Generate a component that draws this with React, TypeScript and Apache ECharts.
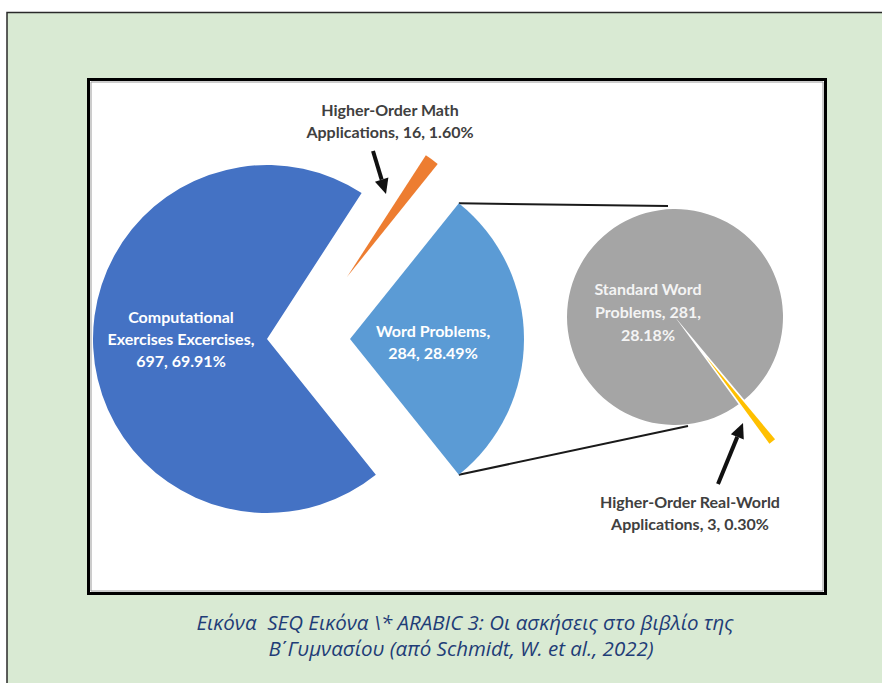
import React, { useEffect, useRef } from "react";
import * as echarts from "echarts";

// ---- data ----
const categories = ["Computational\nExercises Excercises", "Higher-Order Math\nApplications", "Word Problems"];
const values = [697, 16, 284];
const subCategories = ["Standard Word\nProblems", "Higher-Order Real-World\nApplications"];
const subValues = [281, 3];
const captionLines = [
  "Εικόνα  SEQ Εικόνα \\* ARABIC 3: Οι ασκήσεις στο βιβλίο της",
  "Β\u0374Γυμνασίου (από Schmidt, W. et al., 2022)",
];

// ---- styles / layout ----
const mainColors = ["#4472c4", "#ed7d31", "#5b9bd5"];
const subColors = ["#a5a5a5", "#ffc000"];
// separators after "name," and after "value," for each label
const mainSeps = [["\n", " "], [" ", " "], ["\n", " "]];
const subSeps = [[" ", "\n"], [" ", " "]];

const LABEL_FONT = "Lato, 'Open Sans', sans-serif";

export default function App() {
  const ref = useRef<HTMLDivElement>(null);

  useEffect(() => {
    if (!ref.current) return;
    const chart = echarts.init(ref.current, undefined, { renderer: "svg" });

    const total = values.reduce((a, b) => a + b, 0);
    const pct = (v: number) => ((v / total) * 100).toFixed(2);
    const fmt = (name: string, v: number, seps: string[]) =>
      `${name},${seps[0]}${v},${seps[1]}${pct(v)}%`;

    const wpAngle = (values[2] / total) * 360;
    const startAngle = 360 - wpAngle / 2;

    const subTotal = subValues.reduce((a, b) => a + b, 0);
    const yellowBisector = 308; // degrees (lower-right)
    const subStart = yellowBisector - ((subValues[1] / subTotal) * 360) / 2;

    const R = 174;
    const mainCenter = [267, 339];
    const hoCenter = [347, 277];
    const wpCenter = [350, 339];
    const subCenter = [675, 317];
    const subR = 108;
    const yOff = 50;
    const yRad = (yellowBisector * Math.PI) / 180;
    const yellowCenter = [subCenter[0] + yOff * Math.cos(yRad), subCenter[1] - yOff * Math.sin(yRad)];

    const base: any = {
      type: "pie",
      clockwise: true,
      silent: true,
      emphasis: { disabled: true },
      labelLine: { show: false },
      avoidLabelOverlap: false,
      percentPrecision: 2,
      startAngle,
    };

    const mkMainData = (show: number) =>
      values.map((v, i) => ({
        name: categories[i],
        value: v,
        itemStyle: {
          color: i === show ? mainColors[i] : "rgba(0,0,0,0)",
          borderWidth: 0,
        },
        label: {
          show: i === show,
          formatter: () => fmt(categories[i], v, mainSeps[i]),
        },
      }));

    const mkSubData = (show: number) =>
      subValues.map((v, i) => ({
        name: subCategories[i],
        value: v,
        itemStyle: {
          color: i === show ? subColors[i] : "rgba(0,0,0,0)",
          borderWidth: 0,
        },
        label: {
          show: i === show,
          formatter: () => fmt(subCategories[i], v, subSeps[i]),
        },
      }));

    const whiteLabel = {
      position: "inside",
      color: "#ffffff",
      fontFamily: LABEL_FONT,
      fontWeight: "bold",
      fontSize: 16,
      lineHeight: 22,
      align: "center",
    };
    const darkLabel = {
      position: "inside",
      color: "#404040",
      fontFamily: LABEL_FONT,
      fontWeight: "bold",
      fontSize: 16,
      lineHeight: 22,
      align: "center",
    };

    const arrow = (tail: number[], tip: number[]) => {
      const dx = tip[0] - tail[0];
      const dy = tip[1] - tail[1];
      const L = Math.hypot(dx, dy);
      const ux = dx / L, uy = dy / L;
      const hl = 15, hw = 7;
      const bx = tip[0] - hl * ux, by = tip[1] - hl * uy;
      return [
        {
          type: "line",
          z: 100,
          shape: { x1: tail[0], y1: tail[1], x2: bx, y2: by },
          style: { stroke: "#111", lineWidth: 4 },
          silent: true,
        },
        {
          type: "polygon",
          z: 100,
          shape: {
            points: [
              [tip[0], tip[1]],
              [bx - hw * uy, by + hw * ux],
              [bx + hw * uy, by - hw * ux],
            ],
          },
          style: { fill: "#111" },
          silent: true,
        },
      ];
    };

    // connector lines from Word Problems slice corners to the secondary pie
    const a = ((wpAngle / 2) * Math.PI) / 180;
    const wpTop = [wpCenter[0] + R * Math.cos(a), wpCenter[1] - R * Math.sin(a)];
    const wpBot = [wpCenter[0] + R * Math.cos(a), wpCenter[1] + R * Math.sin(a)];

    const captionFont = "italic 20.5px 'Open Sans', sans-serif";

    chart.setOption({
      animation: false,
      backgroundColor: "#ffffff",
      graphic: [
        {
          type: "rect",
          z: -20,
          shape: { x: 7, y: 12.5, width: 900, height: 700 },
          style: { fill: "#d9ead3", stroke: "#2a2a2a", lineWidth: 1.5 },
          silent: true,
        },
        {
          type: "rect",
          z: -10,
          shape: { x: 88.5, y: 79.5, width: 737, height: 514 },
          style: { fill: "#ffffff", stroke: "#000000", lineWidth: 3 },
          silent: true,
        },
        {
          type: "rect",
          z: -9,
          shape: { x: 91, y: 82, width: 732, height: 509 },
          style: { fill: "none", stroke: "#9a9a9a", lineWidth: 1 },
          silent: true,
        },
        {
          type: "line",
          z: 1,
          shape: { x1: wpTop[0], y1: wpTop[1], x2: 668, y2: 206 },
          style: { stroke: "#1a1a1a", lineWidth: 2 },
          silent: true,
        },
        {
          type: "line",
          z: 1,
          shape: { x1: wpBot[0], y1: wpBot[1], x2: 688, y2: 426 },
          style: { stroke: "#1a1a1a", lineWidth: 2 },
          silent: true,
        },
        ...arrow([373, 151], [386, 194]),
        ...arrow([718, 484], [743, 423]),
        {
          type: "text",
          z: 100,
          x: 465,
          y: 622,
          style: {
            text: captionLines[0],
            fill: "#1f3d77",
            font: captionFont,
            textAlign: "center",
            textVerticalAlign: "middle",
          },
          silent: true,
        },
        {
          type: "text",
          z: 100,
          x: 461,
          y: 648,
          style: {
            text: captionLines[1],
            fill: "#1f3d77",
            font: captionFont,
            textAlign: "center",
            textVerticalAlign: "middle",
          },
          silent: true,
        },
      ],
      series: [
        {
          ...base,
          name: "main",
          center: mainCenter,
          radius: R,
          label: whiteLabel,
          data: mkMainData(0),
          labelLayout: () => ({ x: 181, y: 338, align: "center", verticalAlign: "middle" }),
        },
        {
          ...base,
          name: "higherOrderMath",
          center: hoCenter,
          radius: 145,
          label: darkLabel,
          data: mkMainData(1),
          labelLayout: () => ({ x: 390, y: 120, align: "center", verticalAlign: "middle" }),
        },
        {
          ...base,
          name: "wordProblems",
          center: wpCenter,
          radius: R,
          label: whiteLabel,
          data: mkMainData(2),
          labelLayout: () => ({ x: 433, y: 341, align: "center", verticalAlign: "middle" }),
        },
        {
          ...base,
          name: "realWorld",
          startAngle: subStart,
          center: yellowCenter,
          radius: subR,
          label: darkLabel,
          data: mkSubData(1),
          labelLayout: () => ({ x: 690, y: 512, align: "center", verticalAlign: "middle" }),
        },
        {
          ...base,
          name: "standardWord",
          startAngle: subStart,
          center: subCenter,
          radius: subR,
          label: { ...whiteLabel, color: "#f4f4f4", lineHeight: 23 },
          data: mkSubData(0),
          labelLayout: () => ({ x: 648, y: 311, align: "center", verticalAlign: "middle" }),
        },
      ],
    });

    return () => chart.dispose();
  }, []);

  return (
    <div
      ref={ref}
      style={{ position: "fixed", left: 0, top: 0, width: 882, height: 683 }}
    />
  );
}
